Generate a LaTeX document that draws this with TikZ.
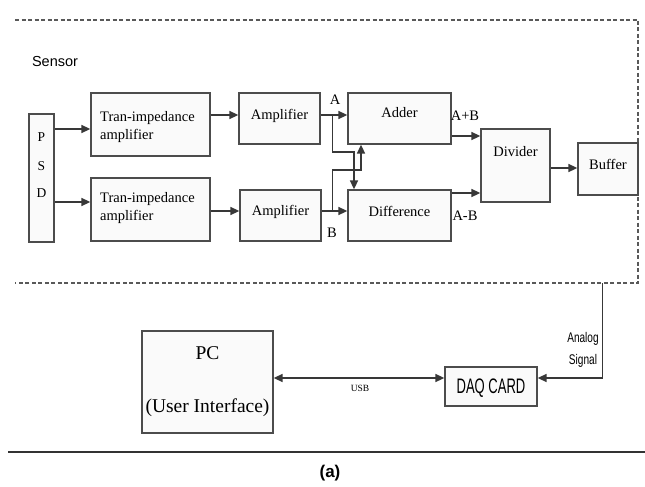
\documentclass[tikz,border=0pt]{standalone}
\usepackage{fontspec}
\setmainfont{Liberation Serif}
\newfontfamily\arialfont{Liberation Sans}
\usetikzlibrary{arrows.meta,calc}
\begin{document}
\begin{tikzpicture}[x=1pt,y=-1pt,
  blk/.style={draw=black!70,line width=1.3pt,fill=black!2,inner sep=0pt},
  arr/.style={draw=black!78,line width=1.6pt,-{Triangle[length=9pt,width=8pt]}},
  lbl/.style={font=\fontsize{14.5}{17}\selectfont,inner sep=0pt},
  dashbox/.style={draw=black!65,line width=1.2pt,dash pattern=on 4pt off 2.5pt}]
\useasboundingbox (0,0) rectangle (645,487);
% dashed sensor frame
\coordinate (fTL) at (15,20);
\coordinate (fTR) at (638,20);
\coordinate (fBR) at (638,283);
\coordinate (fBL) at (15,283);
\draw[dashbox] (fTL) -- (fTR) -- (fBR) -- (fBL);
\node[font=\arialfont\fontsize{14.5}{16}\selectfont] (sensor) at (55,62) {Sensor};
% blocks
\node[blk,minimum width=25pt,minimum height=128pt] (psd) at (41.5,178) {};
\node[lbl,font=\fontsize{13.5}{16}\selectfont] (pP) at (41.5,137) {P};
\node[lbl,font=\fontsize{13.5}{16}\selectfont] (pS) at (41.5,166) {S};
\node[lbl,font=\fontsize{13.5}{16}\selectfont] (pD) at (41.5,193) {D};
\node[blk,minimum width=119pt,minimum height=63pt] (ti1) at (150.5,124.5) {};
\node[lbl,align=left,anchor=west] (ti1t) at (100,127.5) {Tran-impedance\\[1pt]amplifier};
\node[blk,minimum width=119pt,minimum height=63pt] (ti2) at (150.5,209.5) {};
\node[lbl,align=left,anchor=west] (ti2t) at (100,208) {Tran-impedance\\[1pt]amplifier};
\node[blk,minimum width=81pt,minimum height=51pt] (amp1) at (279.5,118.5) {};
\node[lbl] (amp1t) at (279.5,116) {Amplifier};
\node[blk,minimum width=81pt,minimum height=51pt] (amp2) at (280.5,215.5) {};
\node[lbl] (amp2t) at (280.5,212) {Amplifier};
\node[blk,minimum width=103pt,minimum height=51pt] (add) at (399.5,118.5) {};
\node[lbl] (addt) at (399.5,113) {Adder};
\node[blk,minimum width=103pt,minimum height=51pt] (dif) at (399.5,215.5) {};
\node[lbl] (dift) at (399.5,211) {Difference};
\node[blk,minimum width=69pt,minimum height=73pt] (div) at (515.5,165.5) {};
\node[lbl] (divt) at (515.5,152) {Divider};
\node[blk,minimum width=60pt,minimum height=52pt] (buf) at (608,169) {};
\node[lbl] (buft) at (608,164) {Buffer};
% labels
\node[lbl] (la) at (335,100) {A};
\node[lbl] (lb) at (332,233) {B};
\node[lbl] (lapb) at (465,116) {A+B};
\node[lbl] (lamb) at (465,216) {A-B};
% connectors
\draw[arr] (psd.east |- 0,129) -- (ti1.west |- 0,129);
\draw[arr] (psd.east |- 0,202) -- (ti2.west |- 0,202);
\draw[arr] (ti1.east |- 0,115) -- (amp1.west |- 0,115);
\draw[arr] (ti2.east |- 0,211) -- (amp2.west |- 0,211);
\draw[arr] (amp1.east |- 0,115) -- (add.west |- 0,115);
\draw[arr] (amp2.east |- 0,211) -- (dif.west |- 0,211);
\coordinate (ja) at (332.5,115);
\coordinate (jb) at (332.5,211);
\draw[arr] (ja) -- (332.5,152) -- (354,152) -- (dif.north -| 354,0);
\draw[arr] (jb) -- (332.5,170) -- (361,170) -- (add.south -| 361,0);
\draw[arr] (add.east |- 0,136) -- (div.west |- 0,136);
\draw[arr] (dif.east |- 0,193) -- (div.west |- 0,193);
\draw[arr] (div.east |- 0,168) -- (buf.west |- 0,168);
% lower part
\node[blk,minimum width=131pt,minimum height=102pt] (pc) at (207.5,382) {};
\node[font=\fontsize{19.5}{22}\selectfont] (pct) at (207.5,353) {PC};
\node[font=\fontsize{19.5}{22}\selectfont] (uit) at (207.5,408) {(User Interface)};
\node[blk,minimum width=92pt,minimum height=39pt] (daq) at (491,386.5) {};
\node[font=\arialfont\fontsize{21}{22}\selectfont] (daqt) at (491,388) {\scalebox{0.62}[1]{DAQ CARD}};
\coordinate (sig) at (602.5,283);
\draw[arr] (sig) -- (602.5,378) -- (daq.east |- 0,378);
\node[font=\arialfont\fontsize{14}{16}\selectfont] (an) at (583,339) {\scalebox{0.72}[1]{Analog}};
\node[font=\arialfont\fontsize{14}{16}\selectfont] (sg) at (583,361) {\scalebox{0.72}[1]{Signal}};
\draw[draw=black!78,line width=1.6pt,{Triangle[length=9pt,width=8pt]}-{Triangle[length=9pt,width=8pt]}] (pc.east |- 0,378) -- (daq.west |- 0,378);
\node[font=\fontsize{9.5}{11}\selectfont] (usb) at (360,388) {USB};
% bottom rule and caption
\coordinate (r1) at (8,452);
\coordinate (r2) at (645,452);
\draw[black!80,line width=1.2pt] (r1) -- (r2);
\node[font=\arialfont\bfseries\fontsize{17}{19}\selectfont] (cap) at (330,473) {(a)};
\end{tikzpicture}
\end{document}
